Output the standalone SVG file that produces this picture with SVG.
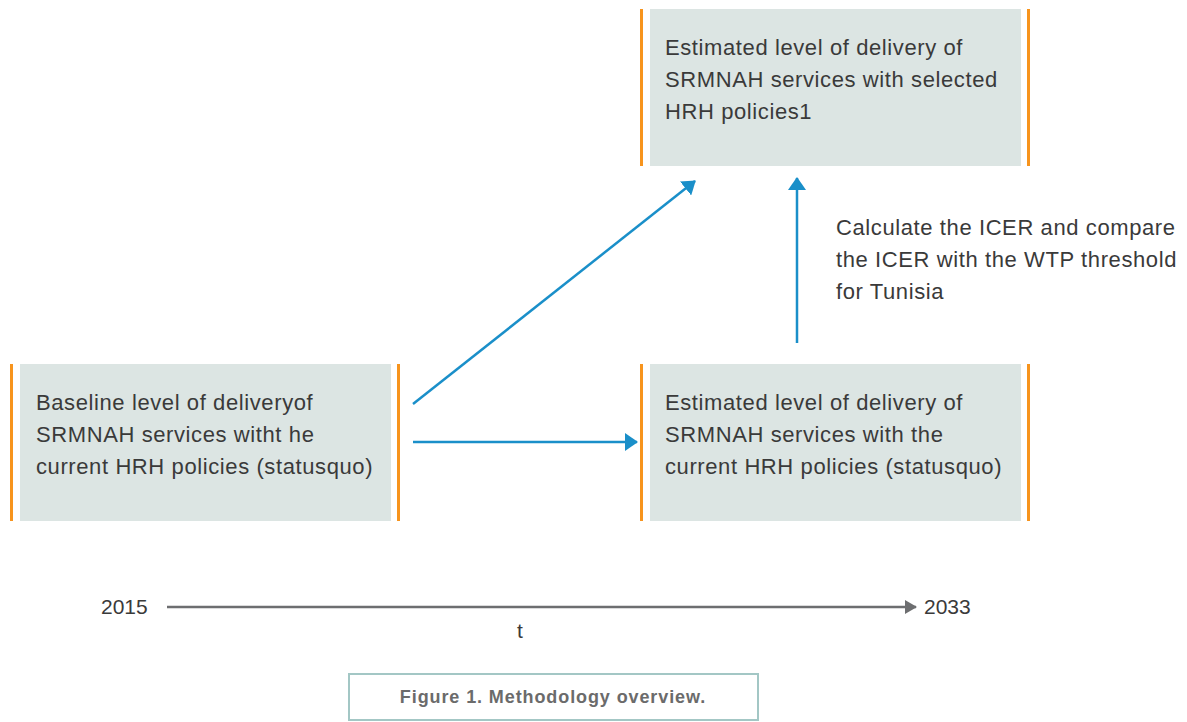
<svg xmlns="http://www.w3.org/2000/svg" width="1187" height="722" viewBox="0 0 1187 722">
  <defs>
    <style>
      .box { fill: #dce5e3; }
      .bar { fill: #f7941d; }
      .lbl { font-family: "Liberation Sans", Arial, sans-serif; font-size: 22px; letter-spacing: 0.6px; fill: #3a3a3a; }
      .flow { stroke: #1a8fc9; stroke-width: 2.5; fill: none; }
      .axis { stroke: #6d6e70; stroke-width: 2.5; fill: none; }
      .yr { font-family: "Liberation Sans", Arial, sans-serif; font-size: 21px; fill: #3a3a3a; }
      .cap { font-family: "Liberation Sans", Arial, sans-serif; font-size: 18px; font-weight: bold; letter-spacing: 0.9px; fill: #6b6b6b; }
    </style>
    <marker id="blueHead" viewBox="0 0 13 18" refX="12" refY="9" markerWidth="13" markerHeight="18" markerUnits="userSpaceOnUse" orient="auto">
      <path d="M0,0 L13,9 L0,18 z" fill="#1a8fc9"/>
    </marker>
    <marker id="grayHead" viewBox="0 0 12 14" refX="11" refY="7" markerWidth="12" markerHeight="14" markerUnits="userSpaceOnUse" orient="auto">
      <path d="M0,0 L12,7 L0,14 z" fill="#6d6e70"/>
    </marker>
  </defs>

  <rect width="1187" height="722" fill="#ffffff"/>

  <!-- Selected policies node -->
  <g id="node-selected">
    <rect class="box" x="650" y="9" width="371" height="157"/>
    <rect class="bar" x="640" y="9" width="3" height="157"/>
    <rect class="bar" x="1027" y="9" width="3" height="157"/>
    <text class="lbl" x="665" y="55">Estimated level of delivery of</text>
    <text class="lbl" x="665" y="87">SRMNAH services with selected</text>
    <text class="lbl" x="665" y="119">HRH policies1</text>
  </g>

  <!-- Baseline node -->
  <g id="node-baseline">
    <rect class="box" x="20" y="364" width="371" height="157"/>
    <rect class="bar" x="10" y="364" width="3" height="157"/>
    <rect class="bar" x="397" y="364" width="3" height="157"/>
    <text class="lbl" x="36" y="410">Baseline level of deliveryof</text>
    <text class="lbl" x="36" y="442">SRMNAH services witht he</text>
    <text class="lbl" x="36" y="474">current HRH policies (statusquo)</text>
  </g>

  <!-- Status quo node -->
  <g id="node-statusquo">
    <rect class="box" x="650" y="364" width="371" height="157"/>
    <rect class="bar" x="640" y="364" width="3" height="157"/>
    <rect class="bar" x="1027" y="364" width="3" height="157"/>
    <text class="lbl" x="665" y="410">Estimated level of delivery of</text>
    <text class="lbl" x="665" y="442">SRMNAH services with the</text>
    <text class="lbl" x="665" y="474">current HRH policies (statusquo)</text>
  </g>

  <!-- ICER note -->
  <g id="note-icer">
    <text class="lbl" x="836" y="235">Calculate the ICER and compare</text>
    <text class="lbl" x="836" y="267">the ICER with the WTP threshold</text>
    <text class="lbl" x="836" y="299">for Tunisia</text>
  </g>

  <!-- Connectors -->
  <g id="connectors">
    <line class="flow" x1="413" y1="404" x2="695" y2="181" marker-end="url(#blueHead)"/>
    <line class="flow" x1="413" y1="442" x2="637" y2="442" marker-end="url(#blueHead)"/>
    <line class="flow" x1="797" y1="343" x2="797" y2="178" marker-end="url(#blueHead)"/>
  </g>

  <!-- Time axis -->
  <g id="timeline">
    <line class="axis" x1="167" y1="607" x2="916" y2="607" marker-end="url(#grayHead)"/>
    <text class="yr" x="101" y="614">2015</text>
    <text class="yr" x="924" y="614">2033</text>
    <text class="yr" x="517" y="638">t</text>
  </g>

  <!-- Caption -->
  <g id="caption">
    <rect x="349" y="674" width="409" height="46" fill="#ffffff" stroke="#a3c7c5" stroke-width="2"/>
    <text class="cap" x="553" y="703" text-anchor="middle">Figure 1. Methodology overview.</text>
  </g>
</svg>
